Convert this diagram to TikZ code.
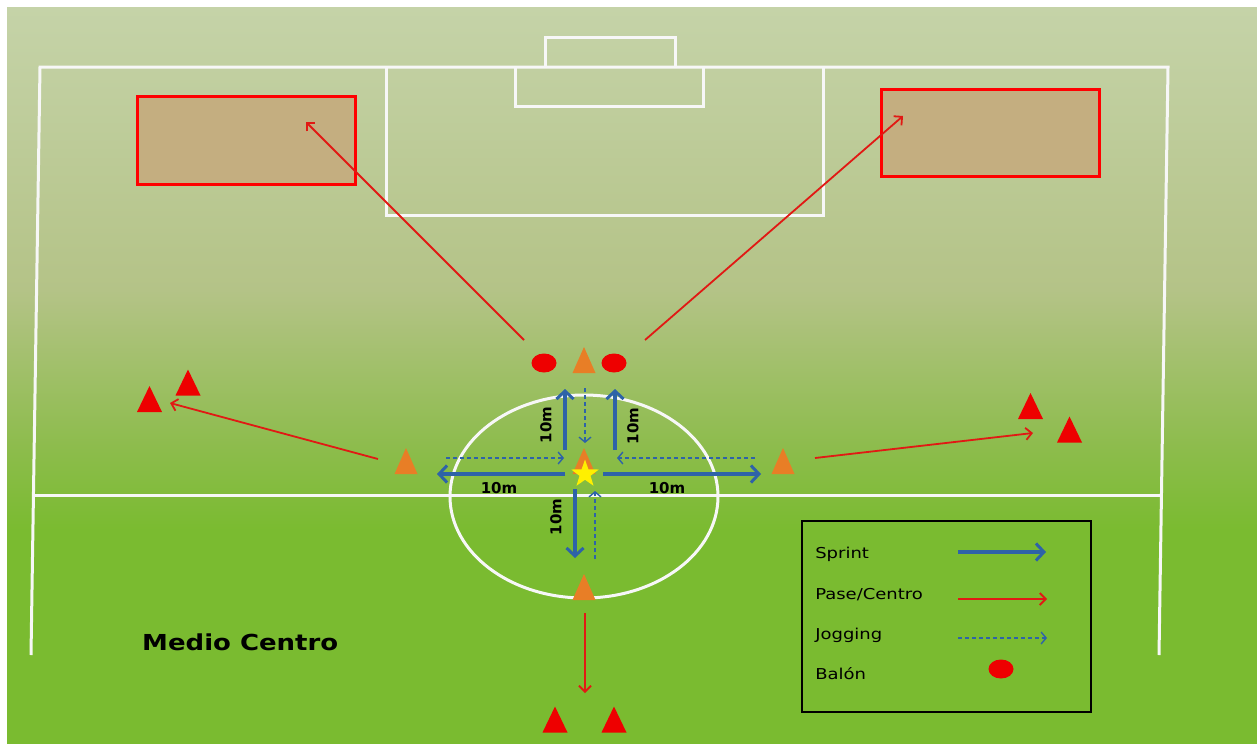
\documentclass[tikz,border=0pt]{standalone}
\usepackage{fontspec}
\setmainfont{DejaVu Sans}
\usetikzlibrary{arrows.meta,shapes.geometric}
\definecolor{gtop}{RGB}{197,211,168}
\definecolor{gmid}{RGB}{180,195,135}
\definecolor{glow}{RGB}{140,188,75}
\definecolor{gbot}{RGB}{122,187,48}
\definecolor{boxfill}{RGB}{196,174,128}
\definecolor{redc}{RGB}{238,0,0}
\definecolor{passred}{RGB}{225,25,20}
\definecolor{orangec}{RGB}{232,126,38}
\definecolor{blueA}{RGB}{46,99,168}
\definecolor{starY}{RGB}{255,240,0}
\tikzset{
  fieldline/.style={draw=white!94!gray, line width=3pt},
  zonebox/.style={draw=red, line width=3pt, fill=boxfill},
  sprint/.style={draw=blueA, line width=3.5pt, -{Straight Barb[length=8pt,width=17pt,line width=3pt]}},
  pase/.style={draw=passred, line width=1.8pt, -{Straight Barb[length=6pt,width=12pt,line width=1.8pt]}},
  jog/.style={draw=blueA, line width=1.4pt, dash pattern=on 4pt off 3pt, -{Straight Barb[length=5pt,width=12pt,line width=1.4pt]}},
  ball/.style={ellipse, fill=redc, minimum width=25pt, minimum height=19pt, inner sep=0pt},
  lbl/.style={font=\bfseries\fontsize{15}{17}\selectfont, inner sep=0pt},
  legtxt/.style={font=\fontsize{15}{17}\selectfont, anchor=west, inner sep=0pt, xscale=1.2},
  ocone/.pic={\fill[orangec] (-11.5,13) -- (0,-13) -- (11.5,13) -- cycle;},
  rcone/.pic={\fill[redc] (-12.5,13) -- (0,-13) -- (12.5,13) -- cycle;}
}
\begin{document}
\begin{tikzpicture}[x=1pt,y=-1pt]
\useasboundingbox (0,0) rectangle (1257,744);
\fill[white] (0,0) rectangle (1257,744);
% background gradient
\shade[top color=gtop, bottom color=gmid] (7,7) rectangle (1257,290.5);
\shade[top color=gmid, bottom color=glow] (7,290) rectangle (1257,450.5);
\shade[top color=glow, bottom color=gbot] (7,450) rectangle (1257,530.5);
\fill[gbot] (7,530) rectangle (1257,744);
% field lines
\coordinate (TL) at (40,67); \coordinate (TR) at (1168,67);
\coordinate (BL) at (31,655); \coordinate (BR) at (1159,655);
\draw[fieldline] (BL) -- (TL) -- (TR) -- (BR);
\draw[fieldline] (33,495) -- (1161,495);
\draw[fieldline] (386,67) -- (386,215) -- (823,215) -- (823,67);
\draw[fieldline] (515,67) -- (515,106) -- (703,106) -- (703,67);
\draw[fieldline] (545,67) -- (545,37) -- (675,37) -- (675,67);
\draw[fieldline] (584,496.5) ellipse [x radius=134, y radius=101.5];
% target zones
\node[zonebox, minimum width=218pt, minimum height=88pt, inner sep=0pt] (zoneL) at (246.5,140) {};
\node[zonebox, minimum width=218pt, minimum height=87pt, inner sep=0pt] (zoneR) at (990,132.5) {};
% cones
\pic at (584,360) {ocone};
\pic at (406,461) {ocone};
\pic at (783,461) {ocone};
\pic at (584,461) {ocone};
\pic at (584,587) {ocone};
\pic at (149.5,399) {rcone};
\pic at (188,382.5) {rcone};
\pic at (1030.5,406) {rcone};
\pic at (1069.5,429.5) {rcone};
\pic at (555,719.5) {rcone};
\pic at (614,719.5) {rcone};
% balls
\node[ball] (ballL) at (544,363) {};
\node[ball] (ballR) at (614,363) {};
% star
\node[star, star points=5, star point ratio=2.5, fill=starY, inner sep=0pt, minimum size=29pt] (star) at (585,474) {};
% sprint arrows
\coordinate (s1a) at (565,450); \coordinate (s1b) at (565,389);
\coordinate (s2a) at (615,450); \coordinate (s2b) at (615,389);
\coordinate (s3a) at (565,474); \coordinate (s3b) at (437,474);
\coordinate (s4a) at (603,474); \coordinate (s4b) at (761,474);
\coordinate (s5a) at (575,489); \coordinate (s5b) at (575,558);
\draw[sprint] (s1a) -- (s1b);
\draw[sprint] (s2a) -- (s2b);
\draw[sprint] (s3a) -- (s3b);
\draw[sprint] (s4a) -- (s4b);
\draw[sprint] (s5a) -- (s5b);
% jogging arrows
\coordinate (j1a) at (585,388); \coordinate (j1b) at (585,443);
\coordinate (j2a) at (446,458); \coordinate (j2b) at (564,458);
\coordinate (j3a) at (755,458); \coordinate (j3b) at (617,458);
\coordinate (j4a) at (595,559); \coordinate (j4b) at (595,491);
\draw[jog] (j1a) -- (j1b);
\draw[jog] (j2a) -- (j2b);
\draw[jog] (j3a) -- (j3b);
\draw[jog] (j4a) -- (j4b);
% passes
\coordinate (p1a) at (524,340); \coordinate (p1b) at (306,122);
\coordinate (p2a) at (645,340); \coordinate (p2b) at (903,116);
\coordinate (p3a) at (378,459); \coordinate (p3b) at (170,403);
\coordinate (p4a) at (815,458); \coordinate (p4b) at (1033,433);
\coordinate (p5a) at (585,613); \coordinate (p5b) at (585,693);
\draw[pase] (p1a) -- (p1b);
\draw[pase] (p2a) -- (p2b);
\draw[pase] (p3a) -- (p3b);
\draw[pase] (p4a) -- (p4b);
\draw[pase] (p5a) -- (p5b);
% distance labels
\node[lbl, rotate=90] (d1) at (546,425) {10m};
\node[lbl, rotate=90] (d2) at (633,426) {10m};
\node[lbl] (d3) at (499,488) {10m};
\node[lbl] (d4) at (667,488) {10m};
\node[lbl, rotate=90] (d5) at (556,517) {10m};
% title
\node[font=\bfseries\fontsize{22}{26}\selectfont, anchor=west, inner sep=0pt, xscale=1.18] (title) at (142,642) {Medio Centro};
% legend
\node[draw=black, line width=1.5pt, minimum width=289pt, minimum height=191pt, inner sep=0pt] (legend) at (946.5,616.5) {};
\node[legtxt] (l1) at (815,554) {Sprint};
\node[legtxt] (l2) at (815,595) {Pase/Centro};
\node[legtxt] (l3) at (815,635) {Jogging};
\node[legtxt] (l4) at (815,674) {Balón};
\coordinate (la1) at (958,552); \coordinate (lb1) at (1046,552);
\coordinate (la2) at (958,599); \coordinate (lb2) at (1047,599);
\coordinate (la3) at (958,638); \coordinate (lb3) at (1047,638);
\draw[sprint] (la1) -- (lb1);
\draw[pase] (la2) -- (lb2);
\draw[jog] (la3) -- (lb3);
\node[ball] (lball) at (1001,669) {};
\end{tikzpicture}
\end{document}
